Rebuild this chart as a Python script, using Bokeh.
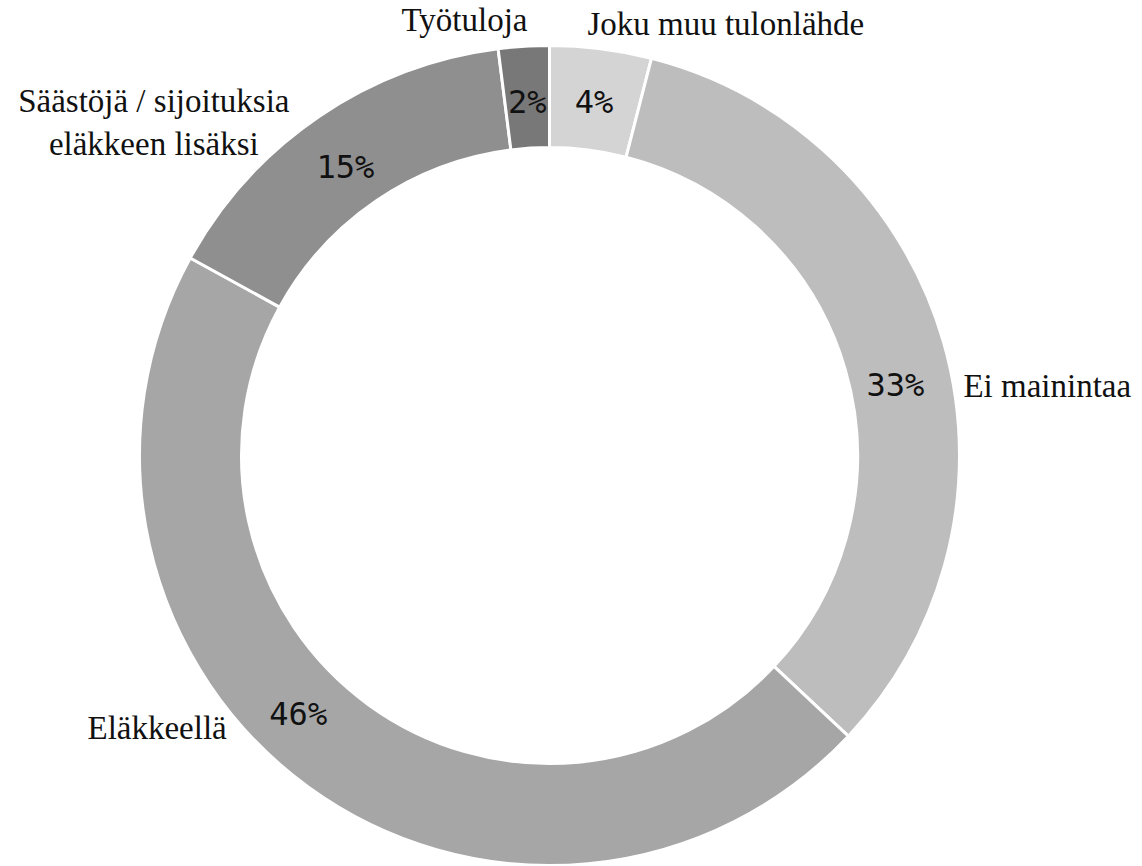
import math
from bokeh.plotting import figure
from bokeh.models import ColumnDataSource, Range1d
from bokeh.core.properties import value
from bokeh.embed import file_html
from bokeh.resources import INLINE

# Data (clockwise from top)
categories = ["Joku muu tulonlähde", "Ei mainintaa", "Eläkkeellä",
              "Säästöjä / sijoituksia\neläkkeen lisäksi", "Työtuloja"]
shares = [4, 33, 46, 15, 2]
pct_labels = ["4%", "33%", "46%", "15%", "2%"]

# Styles (offsets in screen pixels, y downward)
colors = ["#d4d4d4", "#bdbdbd", "#a6a6a6", "#8f8f8f", "#787878"]
outer_align = ["left", "left", "right", "center", "right"]
outer_dx = [-16, 1, -70, -154, 5]
outer_dy = [-5, 50, -75, 23, -6]
inner_dx = [0, 4, -42, -4, 0]
inner_dy = [0, 29, -30, 6, 2]

W, H = 1142, 866
cx_px, cy_px = 549, 455
R_OUT, R_IN = 410, 308

p = figure(width=W, height=H, output_backend="svg", toolbar_location=None,
           x_range=Range1d(-cx_px, W - cx_px), y_range=Range1d(-(H - cy_px), cy_px),
           min_border=0)
p.axis.visible = False
p.grid.visible = False
p.outline_line_color = None
p.background_fill_color = "white"

total = sum(shares)
starts, ends, mids = [], [], []
acc = 0.0
for s in shares:
    t1 = acc / total * 2 * math.pi
    acc += s
    t2 = acc / total * 2 * math.pi
    starts.append(math.pi / 2 - t2)
    ends.append(math.pi / 2 - t1)
    mids.append((t1 + t2) / 2)

src = ColumnDataSource(dict(start=starts, end=ends, color=colors))
p.annular_wedge(x=0, y=0, inner_radius=R_IN, outer_radius=R_OUT,
                start_angle="start", end_angle="end", direction="anticlock",
                fill_color="color", line_color="white", line_width=3, source=src)

r_lab = 356
ix = [r_lab * math.sin(m) + dx for m, dx in zip(mids, inner_dx)]
iy = [r_lab * math.cos(m) - dy for m, dy in zip(mids, inner_dy)]
p.text(x=ix, y=iy, text=pct_labels, text_align="center", text_baseline="middle",
       text_font=value("DejaVu Sans Mono"), text_font_size="32px", text_color="#111111")

r_out_lab = 430
for i, cat in enumerate(categories):
    m = mids[i]
    x = r_out_lab * math.sin(m) + outer_dx[i]
    y = r_out_lab * math.cos(m) - outer_dy[i]
    p.text(x=[x], y=[y], text=[cat], text_align=outer_align[i], text_baseline="middle",
           text_font=value("Liberation Serif"), text_font_size="33px",
           text_color="#111111", text_line_height=1.2)

open("out.html", "w").write(file_html(p, INLINE))
